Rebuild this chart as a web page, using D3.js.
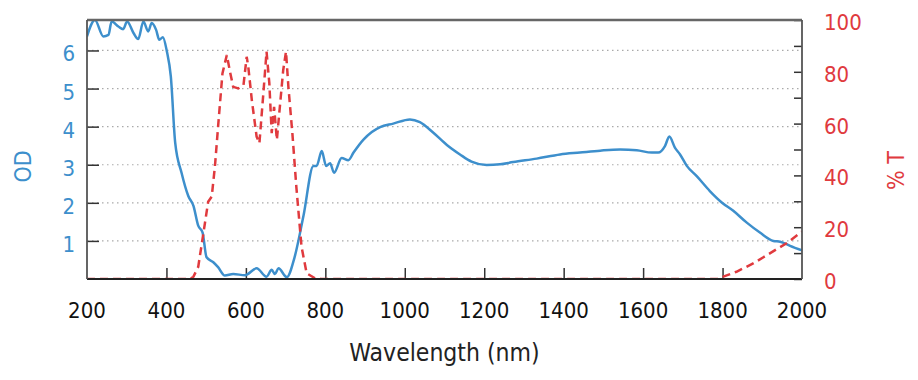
<!DOCTYPE html>
<html>
<head>
<meta charset="utf-8">
<script src="https://cdn.jsdelivr.net/npm/d3@7"></script>
<style>
  body { margin: 0; background: #fff; }
  svg text { font-family: "DejaVu Sans Condensed", "DejaVu Sans", sans-serif; }
</style>
</head>
<body>
<svg id="chart" width="918" height="380"></svg>
<script>
// OD curve (left axis)
const odWl  = [200, 220, 241, 254, 262, 279, 291, 301, 317, 329, 342, 354, 363, 374, 382, 391, 401, 411, 422, 438,
               455, 468, 480, 491, 501, 518, 530, 547, 568, 598, 627, 652, 665, 673, 682, 703, 722, 745, 770, 778,
               791, 802, 812, 822, 841, 858, 871, 896, 917, 938, 971, 1013, 1038, 1072, 1106, 1139, 1168, 1206, 1240, 1273,
               1332, 1391, 1441, 1492, 1542, 1584, 1622, 1638, 1655, 1666, 1680, 1693, 1710, 1735, 1768, 1798, 1827, 1861, 1894, 1928,
               1945, 1970, 2000];
const odVal = [6.37, 6.8, 6.37, 6.41, 6.76, 6.63, 6.56, 6.76, 6.46, 6.3, 6.76, 6.5, 6.72, 6.54, 6.28, 6.35, 5.98, 5.32, 3.58, 2.79,
               2.18, 1.92, 1.40, 1.22, 0.57, 0.44, 0.31, 0.09, 0.13, 0.1, 0.28, 0.06, 0.24, 0.13, 0.28, 0.05, 0.55, 1.66, 2.97, 2.97,
               3.36, 2.97, 3.04, 2.79, 3.18, 3.12, 3.32, 3.66, 3.86, 3.99, 4.08, 4.19, 4.12, 3.84, 3.52, 3.27, 3.08, 2.99, 3.01, 3.07,
               3.16, 3.27, 3.32, 3.37, 3.40, 3.38, 3.32, 3.32, 3.49, 3.74, 3.45, 3.27, 2.97, 2.70, 2.31, 2.01, 1.79, 1.48, 1.22, 1.0,
               0.98, 0.87, 0.75];

// %T curve (right axis)
const tWl  = [200, 460, 468, 480, 493, 505, 514, 522, 530, 541, 552, 560, 568, 581, 594, 602, 606, 615, 627, 634,
              644, 652, 659, 665, 671, 678, 684, 694, 701, 707, 717, 727, 740, 753, 774, 790, 1790, 1802, 1835, 1877,
              1919, 1961, 2000];
const tVal = [0, 0, 0.9, 4.7, 17.6, 29.8, 31.8, 43.4, 58.8, 79.4, 86.5, 80, 74.2, 73.6, 74.9, 85.8, 82, 69, 55, 52.4,
              71.7, 87.8, 75.6, 56.3, 66.5, 53.7, 64, 80.7, 87.8, 74.2, 56.3, 35.6, 12.5, 2.2, 0.3, 0, 0, 0.9, 2.8, 6,
              9.9, 13.8, 18.3];

const xTicks  = [200, 400, 600, 800, 1000, 1200, 1400, 1600, 1800, 2000];
const odTicks = [1, 2, 3, 4, 5, 6];
const tTicks  = [0, 20, 40, 60, 80, 100];

const blue = "#3d8fcc", red = "#e03a3e";
const margin = {top: 20, right: 116, bottom: 101, left: 87},
      width = 918 - margin.left - margin.right,
      height = 380 - margin.top - margin.bottom;

const svg = d3.select("#chart");
const g = svg.append("g").attr("transform", "translate(" + margin.left + "," + margin.top + ")");

const x = d3.scaleLinear().domain([200, 2000]).range([0, width]);
const yOD = d3.scaleLinear().domain([0, 6.8]).range([height, 0]);
const yT = d3.scaleLinear().domain([0, 100]).range([height, 0]);

svg.append("defs").append("clipPath").attr("id", "clip")
    .append("rect").attr("width", width).attr("height", height);

// dotted grid lines
g.append("g").selectAll("line").data(odTicks).enter().append("line")
    .attr("x1", 0).attr("x2", width)
    .attr("y1", d => yOD(d)).attr("y2", d => yOD(d))
    .attr("stroke", "#aaa").attr("stroke-width", 1.2)
    .attr("stroke-dasharray", "1.5,3.5");

// ticks on the inside
g.append("g")
    .call(d3.axisLeft(yOD).tickValues(odTicks).tickSize(-12).tickFormat(""))
    .call(a => a.select(".domain").remove())
    .selectAll("line").attr("stroke", "#333").attr("stroke-width", 1.5);

g.append("g").attr("transform", "translate(" + width + ",0)")
    .call(d3.axisRight(yT).ticks(10).tickSize(-8).tickFormat(""))
    .call(a => a.select(".domain").remove())
    .selectAll("line").attr("stroke", "#333").attr("stroke-width", 1.5);

g.append("g").attr("transform", "translate(0," + height + ")")
    .call(d3.axisBottom(x).tickValues(xTicks.slice(1, -1)).tickSize(-11).tickFormat(""))
    .call(a => a.select(".domain").remove())
    .selectAll("line").attr("stroke", "#333").attr("stroke-width", 1.5);

// tick labels
g.append("g").selectAll("text").data(xTicks).enter().append("text")
    .attr("x", d => x(d)).attr("y", height + 39)
    .attr("text-anchor", "middle").attr("font-size", 22).attr("fill", "#111")
    .text(d => d);

g.append("g").selectAll("text").data(odTicks).enter().append("text")
    .attr("x", -12).attr("y", d => yOD(d) + 11)
    .attr("text-anchor", "end").attr("font-size", 22).attr("fill", blue)
    .text(d => d);

g.append("g").selectAll("text").data(tTicks).enter().append("text")
    .attr("x", width + 22).attr("y", d => yT(d) + 10)
    .attr("text-anchor", "start").attr("font-size", 22).attr("fill", red)
    .text(d => d);

// axis titles
svg.append("text")
    .attr("transform", "translate(31," + (margin.top + height / 2 + 17) + ") rotate(-90)")
    .attr("text-anchor", "middle").attr("font-size", 23).attr("fill", blue)
    .text("OD");

svg.append("text")
    .attr("transform", "translate(904," + (margin.top + height / 2 + 21) + ") rotate(-90)")
    .attr("text-anchor", "middle").attr("font-size", 23).attr("fill", red)
    .text("% T");

svg.append("text")
    .attr("x", margin.left + width / 2).attr("y", 361)
    .attr("text-anchor", "middle").attr("font-size", 24.5).attr("fill", "#222")
    .text("Wavelength (nm)");

// curves
const odLine = d3.line()
    .x((d, i) => x(odWl[i]))
    .y(d => yOD(d))
    .curve(d3.curveMonotoneX);

const tLine = d3.line()
    .x((d, i) => x(tWl[i]))
    .y(d => yT(d));

const plot = g.append("g").attr("clip-path", "url(#clip)");

plot.append("path").datum(odVal)
    .attr("d", odLine)
    .attr("fill", "none").attr("stroke", blue).attr("stroke-width", 2.5)
    .attr("stroke-linejoin", "round");

plot.append("path").datum(tVal)
    .attr("d", tLine)
    .attr("fill", "none").attr("stroke", red).attr("stroke-width", 2.5)
    .attr("stroke-dasharray", "8,5");

// frame
g.append("line").attr("x1", 0).attr("x2", width).attr("y1", 0).attr("y2", 0)
    .attr("stroke", "#666").attr("stroke-width", 2.5);
g.append("line").attr("x1", 0).attr("x2", width).attr("y1", height).attr("y2", height)
    .attr("stroke", "#222").attr("stroke-width", 1.8);
g.append("line").attr("x1", 0).attr("x2", 0).attr("y1", 0).attr("y2", height)
    .attr("stroke", "#555").attr("stroke-width", 1.8);
g.append("line").attr("x1", width).attr("x2", width).attr("y1", 0).attr("y2", height)
    .attr("stroke", "#555").attr("stroke-width", 1.8);
</script>
</body>
</html>
